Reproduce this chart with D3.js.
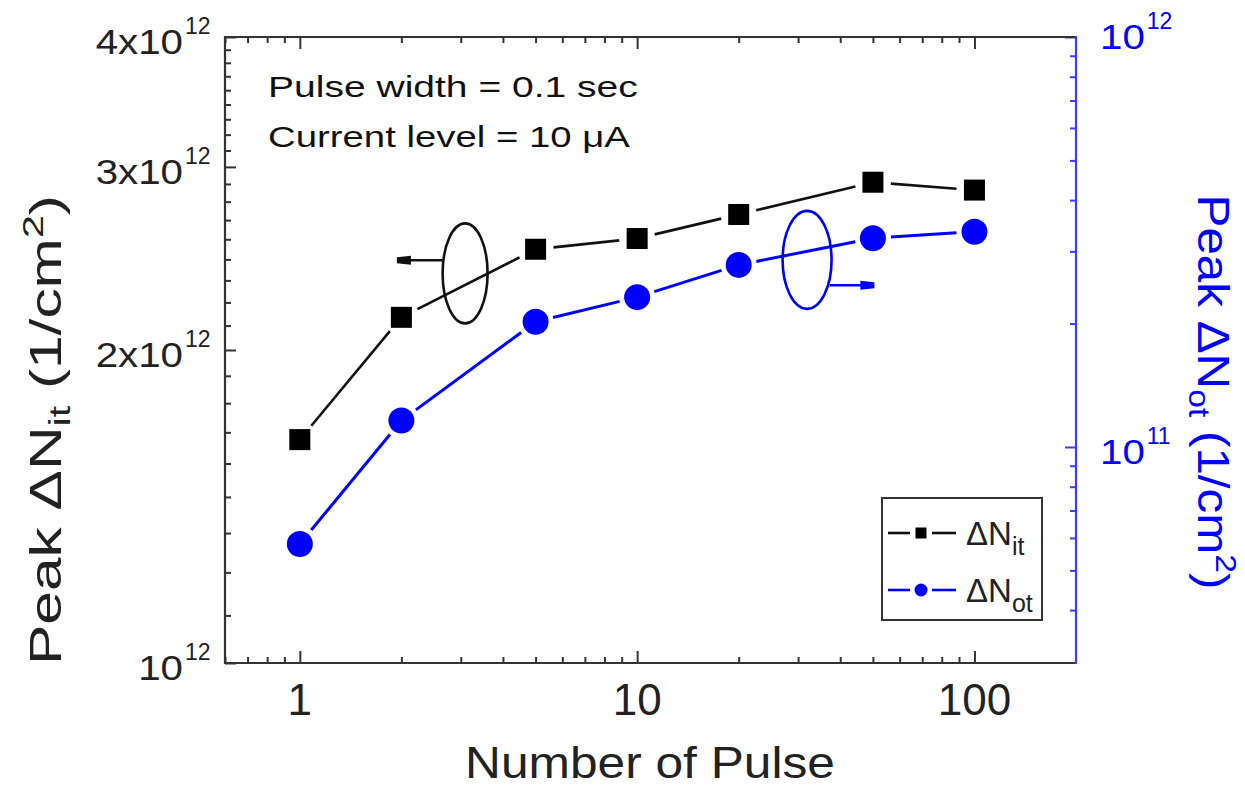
<!DOCTYPE html>
<html>
<head>
<meta charset="utf-8">
<script src="https://cdn.jsdelivr.net/npm/d3@7"></script>
<style>
  body { margin: 0; background: #fff; }
  svg { display: block; }
  text { font-family: "Liberation Sans", Arial, sans-serif; }
</style>
</head>
<body>
<div id="chart"></div>
<script>
// values
const pulses = [1, 2, 5, 10, 20, 50, 100];
const nitPeak = [1.64e12, 2.15e12, 2.50e12, 2.56e12, 2.70e12, 2.90e12, 2.85e12];
const notPeak = [5.8e10, 1.16e11, 2.02e11, 2.32e11, 2.78e11, 3.23e11, 3.35e11];

// tick labels
const xTicks = [1, 10, 100];
const xTickLabels = ["1", "10", "100"];
const leftTicks = [1e12, 2e12, 3e12, 4e12];
const leftTickLabels = [["10", "12"], ["2x10", "12"], ["3x10", "12"], ["4x10", "12"]];
const rightTicks = [1e11, 1e12];
const rightTickLabels = [["10", "11"], ["10", "12"]];

const noteLines = ["Pulse width = 0.1 sec", "Current level = 10 \u03bcA"];
const legendNames = [["\u0394N", "it"], ["\u0394N", "ot"]];

const W = 1245, H = 786;
const pLeft = 225, pRight = 1076, pTop = 37, pBottom = 663;
const black = "#111", axisGray = "#333", blue = "#0000ff", axisBlue = "#3d3dff";
const stretch = 1.15; // the figure's lettering is wider than plain Arial

const svg = d3.select("#chart").append("svg")
    .attr("width", W)
    .attr("height", H);

const x = d3.scaleLog().domain([0.6, 200]).range([pLeft, pRight]);
const yL = d3.scaleLog().domain([1e12, 4e12]).range([pBottom, pTop]);
const yR = d3.scaleLog().domain([2.972e10, 1e12]).range([pBottom, pTop]);

// minor tick values
const xMinor = [];
[0.1, 1, 10].forEach(d => { for (let k = 2; k <= 9; k++) { const v = k * d; if (v > 0.6 && v < 200) xMinor.push(v); } });
const lMinor = [];
for (let k = 1; k <= 3; k++) for (let j = 1; j <= 8; j++) lMinor.push((k + j / 9) * 1e12);
const rMinor = [];
[1e10, 1e11].forEach(d => { for (let k = 2; k <= 9; k++) { const v = k * d; if (v > 3.5e10 && v < 1e12) rMinor.push(v); } });

function ticks(axis, transform, color) {
    const g = svg.append("g").attr("transform", transform).call(axis);
    g.select(".domain").remove();
    g.selectAll("text").remove();
    g.selectAll("line").attr("stroke", color).attr("stroke-width", 2);
}

ticks(d3.axisBottom(x).tickValues(xTicks).tickSize(-12), `translate(0,${pBottom})`, axisGray);
ticks(d3.axisBottom(x).tickValues(xMinor).tickSize(-6), `translate(0,${pBottom})`, axisGray);
ticks(d3.axisTop(x).tickValues(xTicks).tickSize(-12), `translate(0,${pTop})`, axisGray);
ticks(d3.axisTop(x).tickValues(xMinor).tickSize(-6), `translate(0,${pTop})`, axisGray);
ticks(d3.axisLeft(yL).tickValues(leftTicks).tickSize(-11), `translate(${pLeft},0)`, axisGray);
ticks(d3.axisLeft(yL).tickValues(lMinor).tickSize(-6), `translate(${pLeft},0)`, axisGray);
ticks(d3.axisRight(yR).tickValues(rightTicks).tickSize(-11), `translate(${pRight},0)`, axisBlue);
ticks(d3.axisRight(yR).tickValues(rMinor).tickSize(-6), `translate(${pRight},0)`, axisBlue);

// frame
svg.append("path")
    .attr("d", `M${pRight},${pTop}H${pLeft}V${pBottom}H${pRight}`)
    .attr("fill", "none").attr("stroke", axisGray).attr("stroke-width", 2.2);
svg.append("line")
    .attr("x1", pRight).attr("x2", pRight).attr("y1", pTop - 1).attr("y2", pBottom + 1)
    .attr("stroke", axisBlue).attr("stroke-width", 2.2);

// stretch a text along its own direction so it spans the wanted length
function fit(t, len, transform) {
    const w = t.node().getBBox().width;
    t.attr("transform", `${transform} scale(${len / w},1)`);
}

// x tick labels
svg.selectAll(".xlab").data(xTicks).enter().append("text")
    .attr("x", d => x(d)).attr("y", 715)
    .attr("text-anchor", "middle").attr("font-size", 44).attr("fill", "#222")
    .text((d, i) => xTickLabels[i]);

// power-of-ten labels: mantissa part then a superscript exponent
function powLabel(xm, y, parts, anchor, color) {
    const m = svg.append("text")
        .attr("text-anchor", anchor).attr("font-size", 35).attr("fill", color)
        .attr("transform", `translate(${xm},${y}) scale(${stretch},1)`)
        .text(parts[0]);
    const bb = m.node().getBBox();
    const xEnd = anchor === "end" ? xm : xm + bb.width * stretch;
    svg.append("text")
        .attr("x", xEnd + 2).attr("y", y - 20)
        .attr("font-size", 23).attr("fill", color)
        .text(parts[1]);
}

leftTicks.forEach((v, i) => powLabel(183, yL(v) + 17, leftTickLabels[i], "end", "#222"));
rightTicks.forEach((v, i) => powLabel(1100, yR(v) + (v === 1e12 ? 12 : 17), rightTickLabels[i], "start", blue));

// axis titles
const xt = svg.append("text").attr("text-anchor", "middle").attr("font-size", 44).attr("fill", "#222")
    .text("Number of Pulse");
fit(xt, 370, "translate(650,778)");

function axisTitle(sub, color) {
    const t = svg.append("text").attr("text-anchor", "middle").attr("font-size", 44).attr("fill", color);
    t.append("tspan").text("Peak \u0394N");
    t.append("tspan").attr("dy", 9).attr("font-size", 30).text(sub);
    t.append("tspan").attr("dy", -9).text(" (1/cm");
    t.append("tspan").attr("dy", -18).attr("font-size", 30).text("2");
    t.append("tspan").attr("dy", 18).text(")");
    return t;
}
fit(axisTitle("it", "#222"), 470, "translate(61,430) rotate(-90)");
fit(axisTitle("ot", blue), 395, "translate(1198,392) rotate(90)");

// note text
noteLines.forEach((s, i) => {
    const t = svg.append("text").attr("font-size", 30).attr("fill", "#111").text(s);
    fit(t, i === 0 ? 370 : 362, `translate(268,${i === 0 ? 97 : 147})`);
});

// series: lines with gaps around markers
function series(vals, y, color, width) {
    const pts = pulses.map((p, i) => [x(p), y(vals[i])]);
    const gap = 18;
    for (let i = 0; i < pts.length - 1; i++) {
        const [x1, y1] = pts[i], [x2, y2] = pts[i + 1];
        const len = Math.hypot(x2 - x1, y2 - y1);
        const ux = (x2 - x1) / len, uy = (y2 - y1) / len;
        svg.append("line")
            .attr("x1", x1 + ux * gap).attr("y1", y1 + uy * gap)
            .attr("x2", x2 - ux * gap).attr("y2", y2 - uy * gap)
            .attr("stroke", color).attr("stroke-width", width);
    }
}

series(nitPeak, yL, black, 2.6);
series(notPeak, yR, blue, 3);

svg.selectAll(".sq").data(pulses).enter().append("rect")
    .attr("x", d => x(d) - 10.5).attr("y", (d, i) => yL(nitPeak[i]) - 10.5)
    .attr("width", 21).attr("height", 21).attr("fill", "#000");

svg.selectAll(".ci").data(pulses).enter().append("circle")
    .attr("cx", d => x(d)).attr("cy", (d, i) => yR(notPeak[i]))
    .attr("r", 13).attr("fill", blue);

// ellipses with arrows pointing at their axes (placed in data coordinates)
const notes = [
    { cx: 3.09, cy: 2.37e12, y: yL, rx: 22.5, ry: 50, from: 2.65, to: 1.94, ay: 2.44e12, color: black },
    { cx: 31.9, cy: 2.86e11, y: yR, rx: 24.5, ry: 49, from: 37.2, to: 50.5, ay: 2.48e11, color: blue }
];
notes.forEach(n => {
    svg.append("ellipse")
        .attr("cx", x(n.cx)).attr("cy", n.y(n.cy))
        .attr("rx", n.rx).attr("ry", n.ry)
        .attr("fill", "none").attr("stroke", n.color).attr("stroke-width", 2.6);
    const x1 = x(n.from), x2 = x(n.to), ay = n.y(n.ay);
    const dir = Math.sign(x2 - x1);
    svg.append("line")
        .attr("x1", x1).attr("y1", ay).attr("x2", x2 - dir * 12).attr("y2", ay)
        .attr("stroke", n.color).attr("stroke-width", 2.6);
    svg.append("path")
        .attr("d", `M${x2},${ay - 3}L${x2 - dir * 14},${ay - 4.5}L${x2 - dir * 14},${ay + 4.5}L${x2},${ay + 3}Z`)
        .attr("fill", n.color);
});

// legend
const lg = svg.append("g");
lg.append("rect")
    .attr("x", 882).attr("y", 498).attr("width", 160).attr("height", 122)
    .attr("fill", "#fff").attr("stroke", axisGray).attr("stroke-width", 2);
[[black, "square"], [blue, "circle"]].forEach(([c, shape], i) => {
    const ly = 533 + i * 57;
    lg.append("line").attr("x1", 888).attr("x2", 910).attr("y1", ly).attr("y2", ly).attr("stroke", c).attr("stroke-width", 2.6);
    lg.append("line").attr("x1", 932).attr("x2", 956).attr("y1", ly).attr("y2", ly).attr("stroke", c).attr("stroke-width", 2.6);
    if (shape === "square") {
        lg.append("rect").attr("x", 915.5).attr("y", ly - 5.5).attr("width", 11).attr("height", 11).attr("fill", "#000");
    } else {
        lg.append("circle").attr("cx", 921).attr("cy", ly).attr("r", 6.5).attr("fill", blue);
    }
    const t = lg.append("text").attr("x", 966).attr("y", ly + 12).attr("font-size", 33).attr("fill", "#222");
    t.append("tspan").text(legendNames[i][0]);
    t.append("tspan").attr("dy", 10).attr("font-size", 25).text(legendNames[i][1]);
});
</script>
</body>
</html>
